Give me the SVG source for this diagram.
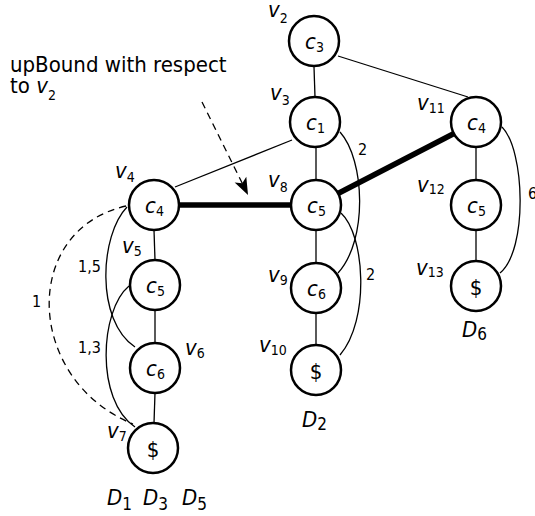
<svg xmlns="http://www.w3.org/2000/svg" width="535" height="516" viewBox="0 0 535 516">
<style>
text{font-family:"DejaVu Sans Condensed","DejaVu Sans","Liberation Sans",sans-serif;font-stretch:condensed;fill:#000}
.n circle{fill:#fff;stroke:#000;stroke-width:2.5}
.lbl{font-size:22px}
.i{font-style:italic}
.s{font-size:14px;font-style:normal}
.sd{font-size:17px;font-style:normal}
.el{font-size:16px}
.thin{fill:none;stroke:#000;stroke-width:1.3}
.thick{fill:none;stroke:#000;stroke-width:5.5}
.dash{fill:none;stroke:#000;stroke-width:1.3;stroke-dasharray:7 5}
</style>
<defs>
<marker id="ah" markerUnits="userSpaceOnUse" markerWidth="30" markerHeight="30" refX="0" refY="0" orient="auto" overflow="visible" viewBox="-10 -10 30 20">
<path d="M12,0 L-5,-6.5 L-1,0 L-5,6.5 Z" fill="#000"/>
</marker>
</defs>
<g id="connectors">
<line class="thin" x1="314" y1="67" x2="315" y2="97"/>
<line class="thin" x1="338" y1="56" x2="468" y2="97"/>
<line class="thin" x1="316" y1="147" x2="316" y2="180"/>
<line class="thin" x1="292" y1="140" x2="175" y2="187"/>
<line class="thick" x1="179" y1="205" x2="291" y2="205"/>
<line class="thick" x1="338" y1="193.5" x2="454" y2="133.5"/>
<line class="thin" x1="316" y1="230" x2="316" y2="263"/>
<line class="thin" x1="316" y1="313" x2="316" y2="345"/>
<line class="thin" x1="476" y1="147" x2="476" y2="180"/>
<line class="thin" x1="476" y1="230" x2="476" y2="261"/>
<line class="thin" x1="154" y1="230" x2="155" y2="260"/>
<line class="thin" x1="155" y1="310" x2="155" y2="343"/>
<line class="thin" x1="155" y1="393" x2="154" y2="423"/>
<path class="thin" d="M340,132 C365,160 368,240 338,273"/>
<path class="thin" d="M341,213 C365,235 370,320 340,355"/>
<path class="thin" d="M502,127 C525,150 528,250 500,273"/>
<path class="thin" d="M127,207 C100,235 95,320 135,347"/>
<path class="thin" d="M129,286 C100,310 95,400 135,427"/>
<path class="dash" d="M126,206 C20,230 25,380 133,424"/>
<line class="dash" x1="202" y1="102" x2="242.7" y2="184.2" marker-end="url(#ah)"/>
<text class="el" x="358" y="155">2</text>
<text class="el" x="366" y="280">2</text>
<text class="el" x="528" y="199">6</text>
<text class="el" x="78" y="272">1,5</text>
<text class="el" x="78" y="353">1,3</text>
<text class="el" x="32" y="307">1</text>
</g>
<g id="annotation">
<text class="lbl" x="10" y="72">upBound with respect</text>
<text class="lbl" x="10" y="93">to <tspan class="i">v</tspan><tspan class="s" dy="7">2</tspan></text>
</g>
<g id="v2" class="n"><circle cx="314" cy="41" r="25"/><text class="lbl" x="305" y="49"><tspan class="i">c</tspan><tspan class="s" dy="3">3</tspan></text><text class="lbl" x="268" y="17"><tspan class="i">v</tspan><tspan class="s" dy="6">2</tspan></text></g>
<g id="v3" class="n"><circle cx="315" cy="122" r="25"/><text class="lbl" x="306" y="130"><tspan class="i">c</tspan><tspan class="s" dy="3">1</tspan></text><text class="lbl" x="270" y="100"><tspan class="i">v</tspan><tspan class="s" dy="5">3</tspan></text></g>
<g id="v8" class="n"><circle cx="316" cy="205" r="25"/><text class="lbl" x="307" y="213"><tspan class="i">c</tspan><tspan class="s" dy="3">5</tspan></text><text class="lbl" x="268" y="187"><tspan class="i">v</tspan><tspan class="s" dy="5">8</tspan></text></g>
<g id="v9" class="n"><circle cx="316" cy="288" r="25"/><text class="lbl" x="307" y="296"><tspan class="i">c</tspan><tspan class="s" dy="3">6</tspan></text><text class="lbl" x="268" y="282"><tspan class="i">v</tspan><tspan class="s" dy="3">9</tspan></text></g>
<g id="v10" class="n"><circle cx="316" cy="370" r="25"/><text class="lbl" x="316" y="379" text-anchor="middle">$</text><text class="lbl" x="259" y="352"><tspan class="i">v</tspan><tspan class="s" dy="3">10</tspan></text></g>
<g id="v11" class="n"><circle cx="476" cy="122" r="25"/><text class="lbl" x="467" y="130"><tspan class="i">c</tspan><tspan class="s" dy="3">4</tspan></text><text class="lbl" x="417" y="110"><tspan class="i">v</tspan><tspan class="s" dy="3">11</tspan></text></g>
<g id="v12" class="n"><circle cx="476" cy="205" r="25"/><text class="lbl" x="467" y="213"><tspan class="i">c</tspan><tspan class="s" dy="3">5</tspan></text><text class="lbl" x="417" y="192"><tspan class="i">v</tspan><tspan class="s" dy="2">12</tspan></text></g>
<g id="v13" class="n"><circle cx="476" cy="286" r="25"/><text class="lbl" x="476" y="295" text-anchor="middle">$</text><text class="lbl" x="416" y="275"><tspan class="i">v</tspan><tspan class="s" dy="2">13</tspan></text></g>
<g id="v4" class="n"><circle cx="154" cy="205" r="25"/><text class="lbl" x="145" y="213"><tspan class="i">c</tspan><tspan class="s" dy="3">4</tspan></text><text class="lbl" x="115" y="178"><tspan class="i">v</tspan><tspan class="s" dy="4">4</tspan></text></g>
<g id="v5" class="n"><circle cx="155" cy="285" r="25"/><text class="lbl" x="146" y="293"><tspan class="i">c</tspan><tspan class="s" dy="3">5</tspan></text><text class="lbl" x="122" y="253"><tspan class="i">v</tspan><tspan class="s" dy="3">5</tspan></text></g>
<g id="v6" class="n"><circle cx="155" cy="368" r="25"/><text class="lbl" x="146" y="376"><tspan class="i">c</tspan><tspan class="s" dy="3">6</tspan></text><text class="lbl" x="185" y="355"><tspan class="i">v</tspan><tspan class="s" dy="3">6</tspan></text></g>
<g id="v7" class="n"><circle cx="153" cy="448" r="25"/><text class="lbl" x="153" y="457" text-anchor="middle">$</text><text class="lbl" x="107" y="438"><tspan class="i">v</tspan><tspan class="s" dy="3">7</tspan></text></g>
<g id="docs">
<text class="lbl i" x="107" y="505">D<tspan class="sd" dy="5">1</tspan></text>
<text class="lbl i" x="143" y="505">D<tspan class="sd" dy="5">3</tspan></text>
<text class="lbl i" x="182" y="505">D<tspan class="sd" dy="5">5</tspan></text>
<text class="lbl i" x="302" y="427">D<tspan class="sd" dy="3">2</tspan></text>
<text class="lbl i" x="462" y="337">D<tspan class="sd" dy="3">6</tspan></text>
</g>
</svg>
